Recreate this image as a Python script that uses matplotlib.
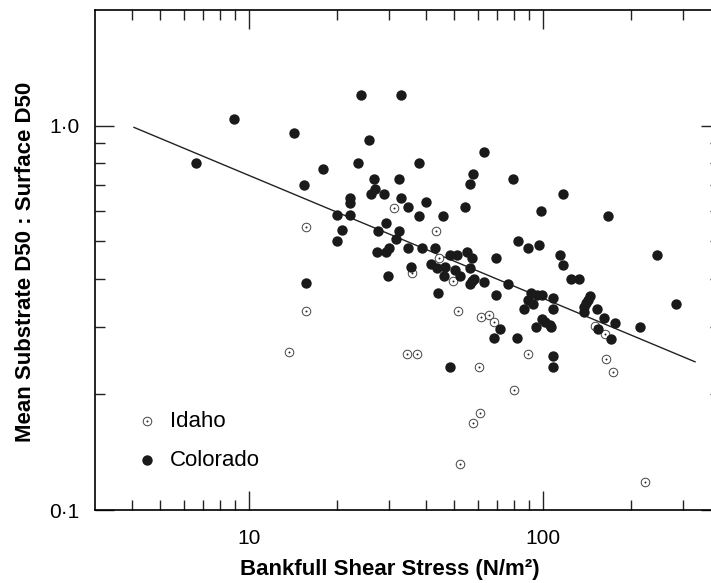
import matplotlib
matplotlib.use("Agg")
import matplotlib.pyplot as plt
from matplotlib.legend_handler import HandlerTuple
from matplotlib.ticker import FixedLocator, NullFormatter

plt.rcParams.update({
    "font.family": ["Liberation Sans", "DejaVu Sans"],
    "axes.linewidth": 1.2,
})

# data (bankfull shear stress N/m2, substrate:surface D50 ratio)
colorado_x = [6.6, 8.9, 14.2, 17.9, 15.4, 23.5, 22, 22.1, 20, 22, 20.8, 20, 15.7, 24, 33,
              25.7, 63, 38, 26.7, 32.3, 79, 58, 56.3, 117, 26, 26.8, 28.9, 33, 34.8, 40,
              37.9, 45.8, 54.3, 98.7, 167, 245, 29.2, 32.5, 27.5, 31.7, 27.3, 29.2, 29.9,
              34.7, 38.8, 42.9, 29.8, 35.6, 41.5, 43.6, 46.6, 46.2, 48.5, 51, 55, 57.6,
              69.3, 82.2, 88.9, 97.2, 113.9, 117, 125, 133, 56.6, 50.1, 52.4, 58.1, 56.4,
              57.4, 63.1, 76.1, 44.1, 69.5, 91, 95.3, 99.2, 107.8, 145, 89.3, 92.8, 86.5,
              108, 142, 140, 137.5, 138, 153, 161.6, 176, 213.4, 282.5, 154.3, 170.4,
              99.2, 101.8, 105.3, 106.3, 94.4, 81.8, 107.8, 108.6, 71.3, 68.2, 48.3]
colorado_y = [0.80, 1.04, 0.96, 0.77, 0.70, 0.80, 0.65, 0.63, 0.585, 0.585, 0.535, 0.50, 0.39,
              1.2, 1.2, 0.92, 0.855, 0.80, 0.725, 0.725, 0.725, 0.75, 0.705, 0.665, 0.665,
              0.683, 0.665, 0.647, 0.614, 0.632, 0.583, 0.583, 0.614, 0.60, 0.583, 0.46,
              0.557, 0.533, 0.533, 0.508, 0.47, 0.47, 0.48, 0.48, 0.48, 0.48, 0.406, 0.43,
              0.436, 0.427, 0.43, 0.406, 0.46, 0.46, 0.47, 0.452, 0.452, 0.50, 0.48, 0.49,
              0.46, 0.434, 0.40, 0.40, 0.427, 0.42, 0.406, 0.40, 0.387, 0.395, 0.393, 0.387,
              0.368, 0.362, 0.368, 0.362, 0.362, 0.356, 0.36, 0.352, 0.343, 0.333, 0.333,
              0.352, 0.345, 0.338, 0.328, 0.333, 0.315, 0.307, 0.30, 0.343, 0.295, 0.278,
              0.314, 0.309, 0.303, 0.299, 0.299, 0.281, 0.252, 0.235, 0.295, 0.281, 0.235]

idaho_x = [15.7, 15.6, 13.7, 31.1, 43.3, 36, 44.2, 49.5, 51.5, 61.6, 65.6, 68.2, 34.6, 37.3,
           60.8, 88.7, 150.4, 162.6, 163.9, 173.5, 79.7, 61.2, 57.9, 52.4, 222.2]
idaho_y = [0.545, 0.33, 0.257, 0.612, 0.532, 0.414, 0.452, 0.394, 0.33, 0.317, 0.322, 0.309,
           0.254, 0.254, 0.235, 0.254, 0.301, 0.287, 0.247, 0.228, 0.205, 0.179, 0.168,
           0.132, 0.118]

# fitted power-law line, end points
fit_x = [4.07, 329]
fit_y = [0.99, 0.243]

fig = plt.figure(figsize=(7.11, 5.83), dpi=100)
ax = fig.add_axes([95 / 711, 73 / 583, 625 / 711, 500 / 583])

ax.plot(fit_x, fit_y, color="#222222", lw=1.0, zorder=2)

idaho_ring = ax.scatter(idaho_x, idaho_y, s=38, facecolor="white", edgecolor="#444444",
                        linewidth=0.7, zorder=3)
idaho_dot = ax.scatter(idaho_x, idaho_y, s=2, color="#222222", linewidth=0, zorder=3)
colo = ax.scatter(colorado_x, colorado_y, s=56, color="#1a1a1a", linewidth=0, zorder=4)

ax.set_xscale("log")
ax.set_yscale("log")
ax.set_xlim(3, 400)
ax.set_ylim(0.1, 2.0)

ax.xaxis.set_major_locator(FixedLocator([10, 100]))
ax.xaxis.set_minor_locator(FixedLocator([4, 5, 6, 7, 8, 9, 20, 30, 40, 50, 60, 70, 80, 90, 200, 300]))
ax.set_xticklabels(["10", "100"])
ax.xaxis.set_minor_formatter(NullFormatter())

ax.yaxis.set_major_locator(FixedLocator([0.1, 1.0]))
ax.yaxis.set_minor_locator(FixedLocator([0.2, 0.3, 0.4, 0.5, 0.6, 0.7, 0.8, 0.9]))
ax.set_yticklabels(["0\u00b71", "1\u00b70"])
ax.yaxis.set_minor_formatter(NullFormatter())

ax.tick_params(which="both", direction="in", top=True, right=True, width=1.0, color="#222222")
ax.tick_params(which="major", length=14, labelsize=15)
ax.tick_params(which="minor", length=7)
ax.tick_params(axis="x", which="major", pad=13.5)
ax.tick_params(axis="y", which="major", pad=11)

ax.set_xlabel("Bankfull Shear Stress (N/m\u00b2)", fontsize=16, fontweight="bold")
ax.set_ylabel("Mean Substrate D50 : Surface D50", fontsize=16, fontweight="bold")
ax.xaxis.set_label_coords(0.471, -0.099)
ax.yaxis.set_label_coords(-0.095, 0.497)

ax.legend([(idaho_ring, idaho_dot), colo], ["Idaho", "Colorado"],
          handler_map={tuple: HandlerTuple(ndivide=1)},
          loc="lower left", bbox_to_anchor=(0.033, 0.038), frameon=False,
          fontsize=16, handletextpad=0.55, labelspacing=0.8, handlelength=1.0,
          scatterpoints=1)

fig.savefig("out.png", dpi=100)
